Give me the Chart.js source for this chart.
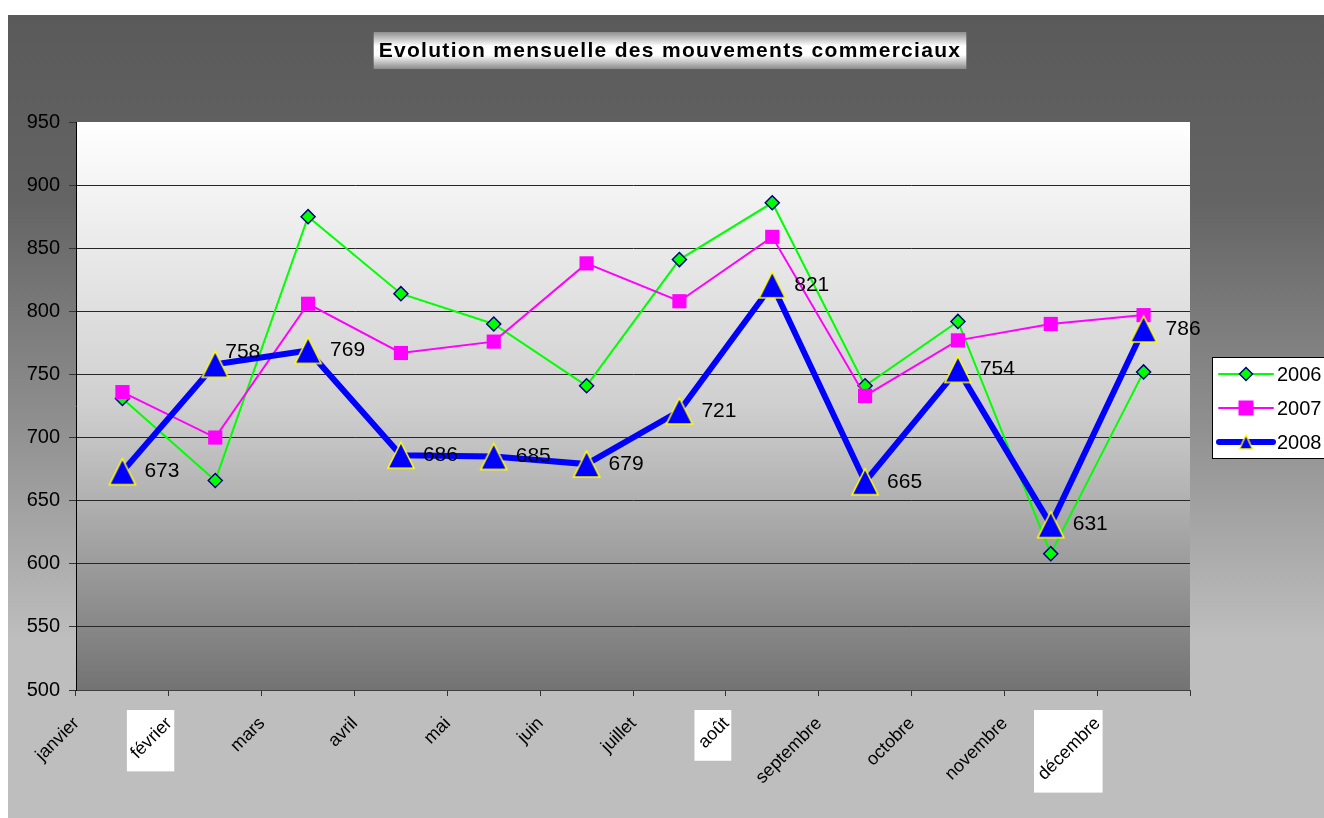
<!DOCTYPE html>
<html>
<head>
<meta charset="utf-8">
<script src="https://cdn.jsdelivr.net/npm/chart.js@4.4.0/dist/chart.umd.min.js"></script>
<style>
  html, body { margin: 0; padding: 0; background: #fff; }
  #wrap { width: 1324px; height: 818px; }
</style>
</head>
<body>
<div id="wrap"><canvas id="chart" width="1324" height="818"></canvas></div>
<script>
const chartTitle = 'Evolution mensuelle des mouvements commerciaux';
const months = ['janvier', 'février', 'mars', 'avril', 'mai', 'juin', 'juillet', 'août', 'septembre', 'octobre', 'novembre', 'décembre'];
const seriesNames = ['2006', '2007', '2008'];
const values2006 = [731, 666, 875, 814, 790, 741, 841, 886, 741, 792, 608, 752];
const values2007 = [736, 700, 806, 767, 776, 838, 808, 859, 733, 777, 790, 797];
const values2008 = [673, 758, 769, 686, 685, 679, 721, 821, 665, 754, 631, 786];
const yMin = 500;
const yMax = 950;
const yStep = 50;

const FONT = '"Liberation Sans", Arial, sans-serif';
Chart.defaults.font.family = FONT;
Chart.defaults.color = '#000';

// triangles in the original are as tall as they are wide, so draw them ourselves
function makeTriangle(w, h, lw) {
    const c = document.createElement('canvas');
    c.width = w + 4;
    c.height = h + 4;
    const g = c.getContext('2d');
    g.beginPath();
    g.moveTo(c.width / 2, 2);
    g.lineTo(c.width - 2, h + 2);
    g.lineTo(2, h + 2);
    g.closePath();
    g.fillStyle = '#0000ff';
    g.fill();
    g.lineWidth = lw;
    g.strokeStyle = '#ffff00';
    g.stroke();
    return c;
}
const bigTriangle = makeTriangle(26, 26, 1.6);
const smallTriangle = makeTriangle(13, 14, 1.4);

// the 758 label sits up and to the left in the original
const labelNudge = { 1: [-12, -12] };

const backgrounds = {
    id: 'backgrounds',
    beforeDraw(chart) {
        const ctx = chart.ctx;
        const { left, top, right, bottom } = chart.chartArea;
        ctx.save();
        ctx.fillStyle = '#ffffff';
        ctx.fillRect(0, 0, chart.width, chart.height);

        const outer = ctx.createLinearGradient(0, 15, 0, chart.height);
        outer.addColorStop(0, '#5a5a5a');
        outer.addColorStop(0.23, '#646464');
        outer.addColorStop(0.5, '#8e8e8e');
        outer.addColorStop(0.78, '#bebebe');
        outer.addColorStop(1, '#bebebe');
        ctx.fillStyle = outer;
        ctx.fillRect(8, 15, chart.width - 8, chart.height - 15);

        const plot = ctx.createLinearGradient(0, top, 0, bottom);
        plot.addColorStop(0, '#ffffff');
        plot.addColorStop(0.5, '#cfcfcf');
        plot.addColorStop(1, '#737373');
        ctx.fillStyle = plot;
        ctx.fillRect(left, top, right - left, bottom - top);

        // white boxes behind the accented month names
        const x = chart.scales.x;
        const xo = x.options;
        ctx.font = '18px ' + FONT;
        months.forEach((m, i) => {
            if (!/[^\x00-\x7F]/.test(m)) return;
            const ax = x.getPixelForTick(i) + xo.ticks.labelOffset;
            const len = ctx.measureText(m).width * Math.SQRT1_2;
            ctx.fillStyle = '#ffffff';
            ctx.fillRect(ax + 5 - (len + 12), 710, len + 12, len + 26);
        });
        ctx.restore();
    }
};

const titleBox = {
    id: 'titleBox',
    afterDraw(chart) {
        const ctx = chart.ctx;
        ctx.save();
        ctx.font = 'bold 21px ' + FONT;
        ctx.letterSpacing = '1.3px';
        const w = ctx.measureText(chartTitle).width + 10;
        const cx = 670, y0 = 32, h = 37;
        const g = ctx.createLinearGradient(0, y0, 0, y0 + h);
        g.addColorStop(0, '#8f8f8f');
        g.addColorStop(0.38, '#ffffff');
        g.addColorStop(0.62, '#ffffff');
        g.addColorStop(1, '#8a8a8a');
        ctx.fillStyle = g;
        ctx.fillRect(cx - w / 2, y0, w, h);
        ctx.fillStyle = '#000';
        ctx.textAlign = 'center';
        ctx.textBaseline = 'middle';
        ctx.fillText(chartTitle, cx, y0 + h / 2 + 1);
        ctx.restore();
    }
};

const valueLabels = {
    id: 'valueLabels',
    afterDatasetsDraw(chart) {
        const ctx = chart.ctx;
        const meta = chart.getDatasetMeta(2);
        ctx.save();
        ctx.font = '21px ' + FONT;
        ctx.fillStyle = '#000';
        ctx.textAlign = 'left';
        ctx.textBaseline = 'middle';
        meta.data.forEach((pt, i) => {
            const n = labelNudge[i] || [0, 0];
            ctx.fillText(String(values2008[i]), pt.x + 22 + n[0], pt.y + n[1]);
        });
        ctx.restore();
    }
};

const sideLegend = {
    id: 'sideLegend',
    afterDraw(chart) {
        const ctx = chart.ctx;
        ctx.save();
        ctx.fillStyle = '#ffffff';
        ctx.fillRect(1212, 357, 140, 101);
        ctx.strokeStyle = '#000';
        ctx.lineWidth = 1;
        ctx.strokeRect(1212.5, 357.5, 140, 101);
        ctx.font = '20px ' + FONT;
        ctx.textBaseline = 'middle';
        ctx.textAlign = 'left';
        chart.data.datasets.forEach((ds, i) => {
            const y = 374 + i * 34;
            ctx.beginPath();
            ctx.moveTo(1219, y);
            ctx.lineTo(1273, y);
            ctx.strokeStyle = ds.borderColor;
            ctx.lineWidth = ds.borderWidth;
            ctx.lineCap = 'round';
            ctx.stroke();
            if (i === 2) {
                Chart.helpers.drawPoint(ctx, { pointStyle: smallTriangle, radius: 7, rotation: 0 }, 1246, y);
            } else {
                ctx.fillStyle = ds.pointBackgroundColor;
                ctx.strokeStyle = ds.pointBorderColor;
                ctx.lineWidth = ds.pointBorderWidth;
                ctx.beginPath();
                if (i === 0) {
                    ctx.moveTo(1246, y - 6.5); ctx.lineTo(1252.5, y);
                    ctx.lineTo(1246, y + 6.5); ctx.lineTo(1239.5, y);
                } else {
                    ctx.rect(1238.5, y - 7.5, 15, 15);
                }
                ctx.closePath();
                ctx.fill();
                if (ds.pointBorderWidth) ctx.stroke();
            }
            ctx.fillStyle = '#000';
            ctx.fillText(seriesNames[i], 1277, y + 1);
        });
        ctx.restore();
    }
};

new Chart(document.getElementById('chart'), {
    type: 'line',
    data: {
        labels: months,
        datasets: [
            {
                label: seriesNames[0],
                data: values2006,
                borderColor: '#00ff00',
                borderWidth: 2,
                pointStyle: 'rectRot',
                pointRadius: 7,
                pointBackgroundColor: '#00ff00',
                pointBorderColor: '#000080',
                pointBorderWidth: 1.5,
                order: 3
            },
            {
                label: seriesNames[1],
                data: values2007,
                borderColor: '#ff00ff',
                borderWidth: 2,
                pointStyle: 'rect',
                pointRadius: 10,
                pointBackgroundColor: '#ff00ff',
                pointBorderColor: '#ff00ff',
                pointBorderWidth: 0,
                order: 2
            },
            {
                label: seriesNames[2],
                data: values2008,
                borderColor: '#0000ff',
                borderWidth: 6,
                pointStyle: bigTriangle,
                pointRadius: 13,
                pointBackgroundColor: '#0000ff',
                pointBorderColor: '#ffff00',
                pointBorderWidth: 1.5,
                order: 1
            }
        ]
    },
    options: {
        responsive: false,
        animation: false,
        devicePixelRatio: 1,
        layout: { padding: { left: 8, top: 122, right: 134, bottom: 0 } },
        plugins: {
            legend: { display: false },
            title: { display: false },
            tooltip: { enabled: false }
        },
        scales: {
            x: {
                type: 'category',
                offset: true,
                grid: { offset: true, drawOnChartArea: false, tickLength: 6, color: '#333' },
                border: { color: '#404040', width: 1 },
                ticks: {
                    autoSkip: false,
                    minRotation: 45,
                    maxRotation: 45,
                    labelOffset: -46,
                    padding: 17,
                    font: { size: 18 },
                    color: '#000'
                },
                afterFit(scale) { scale.height = 128; }
            },
            y: {
                min: yMin,
                max: yMax,
                grid: {
                    tickLength: 7,
                    color: ctx => (ctx.tick && ctx.tick.value === yMax) ? 'rgba(0,0,0,0)' : '#262626',
                    tickColor: '#333'
                },
                border: { color: '#000', width: 1 },
                ticks: { stepSize: yStep, padding: 9, font: { size: 20 }, color: '#000' },
                afterFit(scale) { scale.width = 68; }
            }
        }
    },
    plugins: [backgrounds, valueLabels, titleBox, sideLegend]
});
</script>
</body>
</html>
